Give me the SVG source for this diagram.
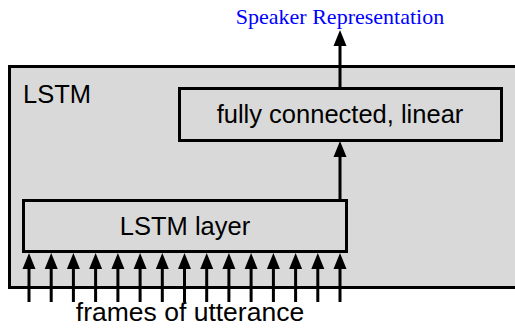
<svg xmlns="http://www.w3.org/2000/svg" width="515" height="328" viewBox="0 0 515 328">
<style>
.box{fill:#d9d9d9;stroke:#000;stroke-width:3}
.lbl{font-family:"Liberation Sans",Arial,sans-serif;font-size:25.5px;fill:#000}
.conn{stroke:#000;stroke-width:3;fill:none}
.head{fill:#000}
</style>
<defs>
<path id="ah" class="head" d="M0,0 L-6.5,16 L6.5,16 Z"/>
</defs>
<g id="lstm">
<rect class="box" x="9.5" y="66.5" width="515" height="221"/>
<text class="lbl" x="23" y="103">LSTM</text>
</g>
<g id="fc">
<rect class="box" x="179.5" y="88.5" width="322" height="52"/>
<text class="lbl" x="340" y="123" text-anchor="middle">fully connected, linear</text>
</g>
<g id="lstm-layer">
<rect class="box" x="23.5" y="200.5" width="323" height="51"/>
<text class="lbl" x="185" y="235" text-anchor="middle">LSTM layer</text>
</g>
<g id="output">
<text x="340" y="24" text-anchor="middle" style="font-family:'Liberation Serif','Times New Roman',serif;font-size:22px;fill:#0000ff">Speaker Representation</text>
</g>
<g id="input">
<text class="lbl" x="190" y="321" text-anchor="middle" style="font-size:26.5px">frames of utterance</text>
</g>
<g id="connectors">
<line class="conn" x1="340" y1="88" x2="340" y2="44"/>
<use href="#ah" x="340" y="30"/>
<line class="conn" x1="340" y1="200" x2="340" y2="154"/>
<use href="#ah" x="340" y="141"/>
<g id="inputs">
<line class="conn" x1="29" y1="302" x2="29" y2="266"/><use href="#ah" x="29" y="253"/>
<line class="conn" x1="51.2" y1="302" x2="51.2" y2="266"/><use href="#ah" x="51.2" y="253"/>
<line class="conn" x1="73.4" y1="302" x2="73.4" y2="266"/><use href="#ah" x="73.4" y="253"/>
<line class="conn" x1="95.6" y1="302" x2="95.6" y2="266"/><use href="#ah" x="95.6" y="253"/>
<line class="conn" x1="117.9" y1="302" x2="117.9" y2="266"/><use href="#ah" x="117.9" y="253"/>
<line class="conn" x1="140.1" y1="302" x2="140.1" y2="266"/><use href="#ah" x="140.1" y="253"/>
<line class="conn" x1="162.3" y1="302" x2="162.3" y2="266"/><use href="#ah" x="162.3" y="253"/>
<line class="conn" x1="184.5" y1="302" x2="184.5" y2="266"/><use href="#ah" x="184.5" y="253"/>
<line class="conn" x1="206.7" y1="302" x2="206.7" y2="266"/><use href="#ah" x="206.7" y="253"/>
<line class="conn" x1="228.9" y1="302" x2="228.9" y2="266"/><use href="#ah" x="228.9" y="253"/>
<line class="conn" x1="251.1" y1="302" x2="251.1" y2="266"/><use href="#ah" x="251.1" y="253"/>
<line class="conn" x1="273.4" y1="302" x2="273.4" y2="266"/><use href="#ah" x="273.4" y="253"/>
<line class="conn" x1="295.6" y1="302" x2="295.6" y2="266"/><use href="#ah" x="295.6" y="253"/>
<line class="conn" x1="317.8" y1="302" x2="317.8" y2="266"/><use href="#ah" x="317.8" y="253"/>
<line class="conn" x1="340" y1="302" x2="340" y2="266"/><use href="#ah" x="340" y="253"/>
</g>
</g>
</svg>
